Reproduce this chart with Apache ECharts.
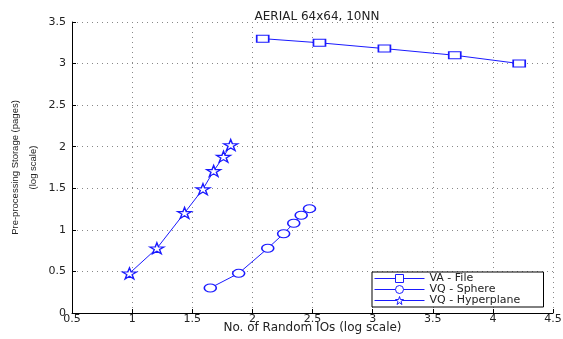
<!DOCTYPE html>
<html><head><meta charset="utf-8">
<script src="https://cdn.jsdelivr.net/npm/echarts@6/dist/echarts.min.js"></script>
<style>html,body{margin:0;padding:0;background:#fff}#c{width:563px;height:339px}</style>
</head><body><div id="c"></div>
<script>
const titleText = 'AERIAL 64x64, 10NN';
const xName = 'No. of Random IOs (log scale)';
const yName = 'Pre-processing Storage (pages)\n(log scale)';
const seriesNames = ['VA - File', 'VQ - Sphere', 'VQ - Hyperplane'];
const vaX = [2.086, 2.558, 3.098, 3.683, 4.219];
const vaY = [3.30, 3.25, 3.18, 3.10, 3.00];
const sphX = [1.650, 1.886, 2.128, 2.260, 2.344, 2.406, 2.475];
const sphY = [0.301, 0.477, 0.778, 0.954, 1.079, 1.176, 1.255];
const hypX = [0.978, 1.206, 1.436, 1.589, 1.678, 1.760, 1.820];
const hypY = [0.477, 0.778, 1.204, 1.490, 1.708, 1.880, 2.020];

const blue = '#1a1aff';
const starPath = 'path://M50,0 L61.8,35.4 L100,35.4 L69.1,57.3 L80.9,93.1 L50,71.2 L19.1,93.1 L30.9,57.3 L0,35.4 L38.2,35.4 Z';
function zip(a,b){return a.map((v,i)=>[v,b[i]]);}
function mk(name, xs, ys, symbol, size){
  return {name:name,type:'line',data:zip(xs,ys),symbol:symbol,symbolSize:size,showAllSymbol:true,
    lineStyle:{color:blue,width:1},
    itemStyle:{color:'#ffffff',borderColor:blue,borderWidth:1.3},
    emphasis:{disabled:true},animation:false};
}
const chart = echarts.init(document.getElementById('c'), null, {renderer:'canvas'});
const font = 'DejaVu Sans, sans-serif';
chart.setOption({
  animation:false,
  backgroundColor:'#fff',
  title:{text:titleText,left:312,top:6,textAlign:'center',textStyle:{fontFamily:font,fontSize:12,fontWeight:'normal',color:'#222'}},
  grid:{left:72,right:10,top:22,bottom:26,outerBoundsMode:'none',containLabel:false},
  xAxis:{type:'value',min:0.5,max:4.5,interval:0.5,
    name:xName,nameLocation:'middle',nameGap:9,nameMoveOverlap:false,
    nameTextStyle:{fontFamily:font,fontSize:12,color:'#222'},
    axisLine:{lineStyle:{color:'#000',width:1}},
    axisTick:{inside:true,length:4,lineStyle:{color:'#000'}},
    axisLabel:{fontFamily:font,fontSize:11,color:'#222',margin:1,formatter:v=>String(v)},
    splitLine:{show:true,lineStyle:{color:'#888',type:[1,4],width:1}}},
  yAxis:{type:'value',min:0,max:3.5,interval:0.5,
    name:yName,nameLocation:'middle',nameGap:30,nameRotate:90,nameMoveOverlap:false,
    nameTextStyle:{fontFamily:'Liberation Sans Narrow, Liberation Sans, sans-serif',fontSize:9.5,color:'#222',lineHeight:18},
    axisLine:{lineStyle:{color:'#000',width:1}},
    axisTick:{inside:true,length:4,lineStyle:{color:'#000'}},
    axisLabel:{fontFamily:font,fontSize:11,color:'#222',margin:6,formatter:v=>String(v)},
    splitLine:{show:true,lineStyle:{color:'#888',type:[1,4],width:1}}},
  legend:{orient:'vertical',left:372,bottom:32,itemGap:0,itemWidth:50,itemHeight:10,
    padding:[1,2,1,2],borderColor:'#000',borderWidth:1,backgroundColor:'#fff',
    lineStyle:{width:1,color:blue},itemStyle:{color:'#ffffff',borderColor:blue,borderWidth:1},
    textStyle:{fontFamily:font,fontSize:11,color:'#222',lineHeight:10,width:112,padding:[0,0,0,0]},
    data:seriesNames},
  series:[
    mk(seriesNames[0],vaX,vaY,'rect',[12,7]),
    mk(seriesNames[1],sphX,sphY,'circle',[12,8]),
    mk(seriesNames[2],hypX,hypY,starPath,[14,11])
  ]
});
</script></body></html>
